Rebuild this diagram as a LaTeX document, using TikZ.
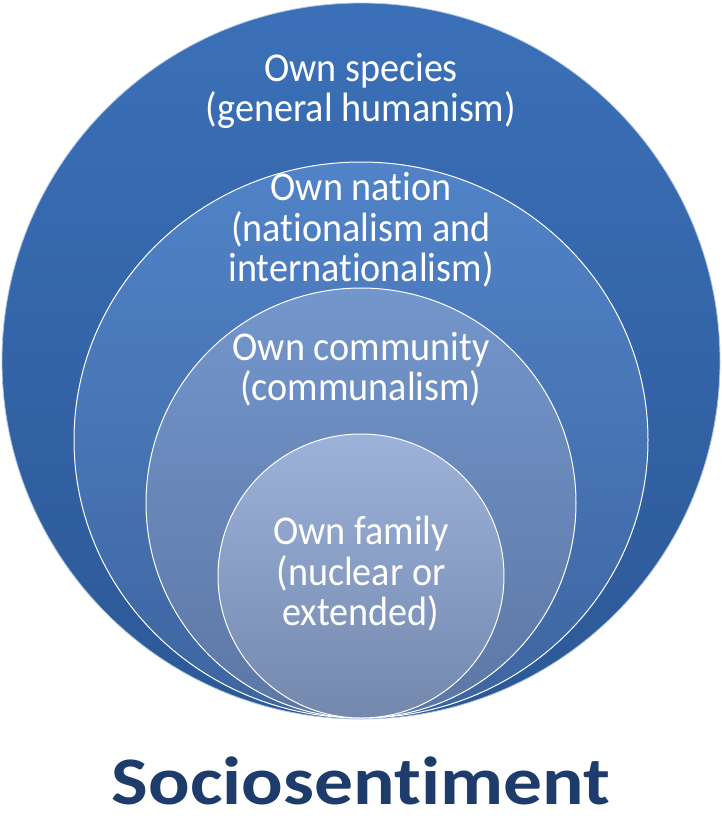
\documentclass[tikz,border=0pt]{standalone}
\usepackage{fontspec}
\setmainfont[RawFeature={-liga;-clig;-calt}]{Carlito}
\newfontfamily\labelfont[FakeStretch=0.93, RawFeature={-liga;-clig;-calt}]{Carlito}
\newfontfamily\titlefont[FakeStretch=1.14, RawFeature={-liga;-clig;-calt}]{Carlito}
\usetikzlibrary{positioning}

\definecolor{ringA}{HTML}{3B70B8}
\definecolor{ringAb}{HTML}{2C5896}
\definecolor{ringB}{HTML}{5183C8}
\definecolor{ringBb}{HTML}{3D65A0}
\definecolor{ringC}{HTML}{7396CC}
\definecolor{ringCb}{HTML}{5C77A4}
\definecolor{ringD}{HTML}{9CB2D8}
\definecolor{ringDb}{HTML}{7488AE}
\definecolor{titleblue}{HTML}{1D3C6B}

\tikzset{
	ring/.style={draw=white, line width=1pt},
	label/.style={text=white, align=center, font=\labelfont\fontsize{41}{40.5}\selectfont, inner sep=0pt},
	title/.style={text=titleblue, font=\titlefont\fontsize{68}{72}\selectfont\bfseries, inner sep=0pt, anchor=base}
}

\begin{document}
\begin{tikzpicture}[x=1pt, y=-1pt]
		\useasboundingbox (0,0) rectangle (722,820);
		% rings, outside in
		\shade[top color=ringA, bottom color=ringAb, draw=white!60!ringA, line width=0.8pt]
			(361,361) ellipse [x radius=359pt, y radius=358pt];
		\shade[ring, top color=ringB, bottom color=ringBb]
			(361,440) ellipse [x radius=287pt, y radius=278pt];
		\shade[ring, top color=ringC, bottom color=ringCb]
			(361,503) ellipse [x radius=215pt, y radius=215pt];
		\shade[ring, top color=ringD, bottom color=ringDb]
			(361,576) ellipse [x radius=143pt, y radius=142pt];
		% texts
		\node[label] (species) at (361,91) {Own species\\(general humanism)};
		\node[label] (nation) at (361,230) {Own nation\\(nationalism and\\internationalism)};
		\node[label] (community) at (361,369) {Own community\\(communalism)};
		\node[label] (family) at (361,574) {Own family\\(nuclear or\\extended)};
		\node[title] (sociosentiment) at (361,804) {Sociosentiment};
\end{tikzpicture}
\end{document}
